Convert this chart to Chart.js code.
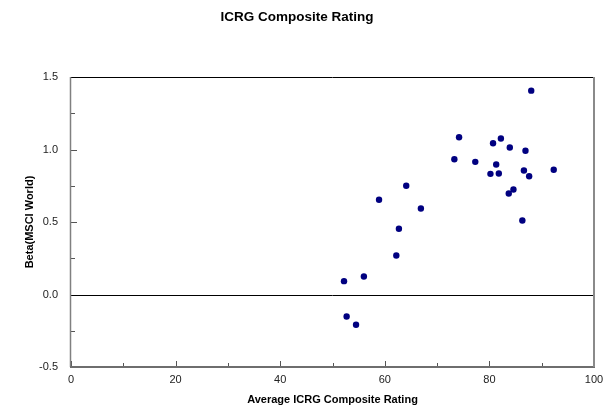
<!DOCTYPE html>
<html>
<head>
<meta charset="utf-8">
<script src="https://cdn.jsdelivr.net/npm/chart.js@4/dist/chart.umd.min.js"></script>
<style>
  html, body { margin: 0; padding: 0; background: #fff; }
  #wrap { width: 609px; height: 410px; position: relative; }
</style>
</head>
<body>
<div id="wrap"><canvas id="c" width="609" height="410"></canvas></div>
<script>
// ---- Data ----
const chartTitle = "ICRG Composite Rating";
const xAxisTitle = "Average ICRG Composite Rating";
const yAxisTitle = "Beta(MSCI World)";

const icrgRating = [52.2, 52.7, 54.5, 56.0, 58.9, 62.2, 62.7, 64.1, 66.9, 73.3, 74.2, 77.3, 80.2,
                    80.7, 81.3, 81.8, 82.2, 83.7, 83.9, 84.6, 86.3, 86.6, 86.9, 87.6, 88.0, 92.3];
const betaWorld  = [0.092, -0.152, -0.209, 0.124, 0.653, 0.269, 0.453, 0.750, 0.593, 0.933, 1.085, 0.915, 0.832,
                    1.043, 0.897, 0.834, 1.076, 0.697, 1.014, 0.724, 0.510, 0.855, 0.991, 0.816, 1.406, 0.860];

const xTickLabels = [0, 20, 40, 60, 80, 100];
const yTickLabels = [-0.5, 0.0, 0.5, 1.0, 1.5];
const xMinorStep = 10;
const yMinorStep = 0.25;

const points = icrgRating.map((x, i) => ({ x: x, y: betaWorld[i] }));

const FONT = "'Liberation Sans', Arial, Helvetica, sans-serif";

// Frame, zero line and inward tick marks drawn through the chart's scales
const framePlugin = {
  id: 'frame',
  beforeDatasetsDraw(chart) {
    const { ctx, chartArea: a, scales: { x, y } } = chart;
    ctx.save();

    // inward ticks
    ctx.strokeStyle = '#555';
    ctx.lineWidth = 1;
    x.ticks.forEach(t => {
      const px = Math.round(x.getPixelForValue(t.value)) + 0.5;
      const major = xTickLabels.includes(Math.round(t.value));
      const len = major ? 6 : 4;
      ctx.beginPath();
      ctx.moveTo(px, a.bottom);
      ctx.lineTo(px, a.bottom - len);
      ctx.stroke();
    });
    y.ticks.forEach(t => {
      const py = Math.round(y.getPixelForValue(t.value)) + 0.5;
      const major = yTickLabels.some(v => Math.abs(v - t.value) < 1e-6);
      const len = major ? 6 : 4;
      ctx.beginPath();
      ctx.moveTo(a.left, py);
      ctx.lineTo(a.left + len, py);
      ctx.stroke();
    });

    // zero line
    const y0 = y.getPixelForValue(0);
    ctx.strokeStyle = '#000';
    ctx.lineWidth = 1;
    ctx.beginPath();
    ctx.moveTo(a.left, Math.round(y0) + 0.5);
    ctx.lineTo(a.right, Math.round(y0) + 0.5);
    ctx.stroke();

    // frame: left, bottom & right grey, top black
    ctx.strokeStyle = '#000';
    ctx.lineWidth = 1;
    ctx.beginPath();
    ctx.moveTo(a.left, Math.round(a.top) + 0.5);
    ctx.lineTo(a.right, Math.round(a.top) + 0.5);
    ctx.stroke();
    ctx.strokeStyle = '#808080';
    ctx.lineWidth = 1.5;
    ctx.beginPath();
    ctx.moveTo(Math.round(a.left) - 0.5, a.top);
    ctx.lineTo(Math.round(a.left) - 0.5, a.bottom);
    ctx.stroke();
    ctx.lineWidth = 2;
    ctx.strokeStyle = '#6e6e6e';
    ctx.beginPath();
    ctx.moveTo(a.left - 1, Math.round(a.bottom));
    ctx.lineTo(a.right + 1, Math.round(a.bottom));
    ctx.stroke();
    ctx.strokeStyle = '#8a8a8a';
    ctx.beginPath();
    ctx.moveTo(Math.round(a.right), a.top);
    ctx.lineTo(Math.round(a.right), a.bottom);
    ctx.stroke();
    ctx.restore();
  }
};

new Chart(document.getElementById('c'), {
  type: 'scatter',
  data: {
    datasets: [{
      data: points,
      backgroundColor: '#000080',
      borderColor: '#000080',
      pointRadius: 3.2,
      pointHoverRadius: 3.2,
      borderWidth: 0
    }]
  },
  options: {
    responsive: false,
    animation: false,
    events: [],
    layout: { padding: { left: 0, right: 15, top: 0, bottom: 0 } },
    plugins: {
      legend: { display: false },
      tooltip: { enabled: false },
      title: {
        display: true,
        text: chartTitle,
        color: '#000',
        font: { family: FONT, size: 13.5, weight: 'bold' },
        padding: { top: 9, bottom: 51.8 }
      }
    },
    scales: {
      x: {
        type: 'linear',
        min: 0, max: 100,
        grid: { display: false },
        border: { display: false },
        ticks: {
          stepSize: xMinorStep,
          autoSkip: false,
          maxRotation: 0,
          padding: -2,
          color: '#222',
          font: { family: FONT, size: 11 },
          callback: v => xTickLabels.includes(Math.round(v)) ? String(Math.round(v)) : ''
        },
        title: {
          display: true,
          text: xAxisTitle,
          color: '#000',
          font: { family: FONT, size: 11, weight: 'bold' },
          padding: { top: 0, bottom: 3 }
        },
        afterFit(s) { s.height = 43; }
      },
      y: {
        type: 'linear',
        min: -0.5, max: 1.5,
        grid: { display: false },
        border: { display: false },
        ticks: {
          stepSize: yMinorStep,
          autoSkip: false,
          padding: 5,
          color: '#222',
          font: { family: FONT, size: 11 },
          callback: v => {
            const m = yTickLabels.find(t => Math.abs(t - v) < 1e-6);
            return m === undefined ? '' : m.toFixed(1);
          }
        },
        title: {
          display: true,
          text: yAxisTitle,
          color: '#000',
          font: { family: FONT, size: 11, weight: 'bold' },
          padding: { top: 23, bottom: 0 }
        },
        afterFit(s) { s.width = 71; }
      }
    }
  },
  plugins: [framePlugin]
});
</script>
</body>
</html>
